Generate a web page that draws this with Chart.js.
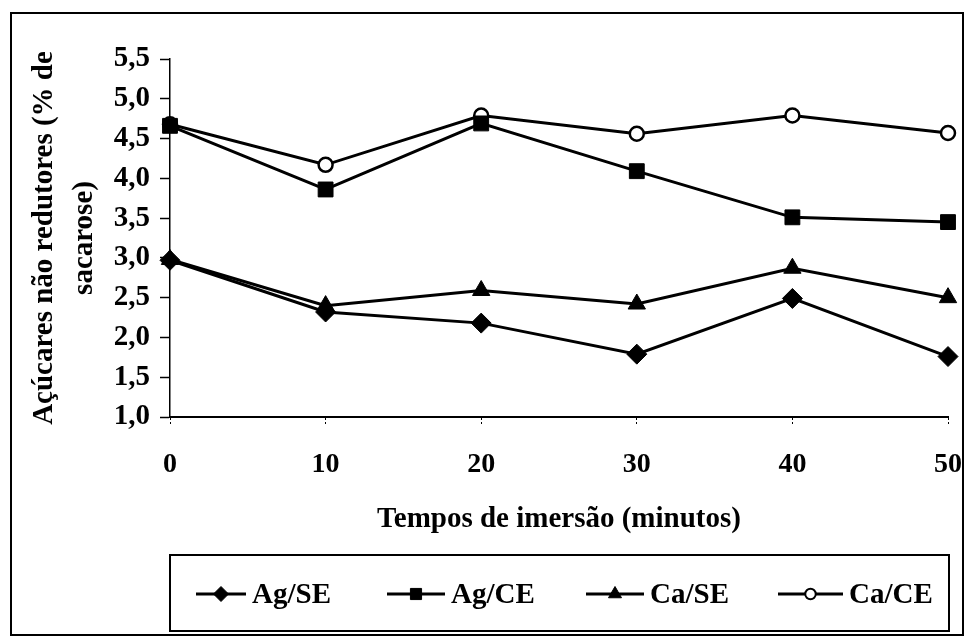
<!DOCTYPE html>
<html>
<head>
<meta charset="utf-8">
<script src="https://cdn.jsdelivr.net/npm/chart.js@4.4.0/dist/chart.umd.min.js"></script>
<style>
  html, body { margin: 0; padding: 0; background: #fff; }
  #wrap { width: 965px; height: 642px; position: relative; }
</style>
</head>
<body>
<div id="wrap"><canvas id="c" width="965" height="642"></canvas></div>
<script>
const categories = ['0', '10', '20', '30', '40', '50'];
const agSE = [2.97, 2.32, 2.18, 1.79, 2.49, 1.76];
const agCE = [4.66, 3.86, 4.69, 4.09, 3.51, 3.45];
const caSE = [2.98, 2.40, 2.59, 2.42, 2.87, 2.50];
const caCE = [4.68, 4.17, 4.79, 4.56, 4.79, 4.57];
const yTickLabels = ['1,0', '1,5', '2,0', '2,5', '3,0', '3,5', '4,0', '4,5', '5,0', '5,5'];
const seriesNames = ['Ag/SE', 'Ag/CE', 'Ca/SE', 'Ca/CE'];

const FONT = '"Liberation Serif", "Times New Roman", serif';

function ds(label, data, style, radius, fill) {
  return {
    label, data,
    borderColor: '#000', borderWidth: 3,
    pointStyle: style, pointRadius: radius, pointHoverRadius: radius,
    pointBackgroundColor: fill, pointBorderColor: '#000',
    pointBorderWidth: fill === '#fff' ? 2.5 : 1,
    tension: 0, fill: false
  };
}

const legendBox = {
  id: 'legendBox',
  afterDraw(chart) {
    const ctx = chart.ctx;
    ctx.save();
    ctx.strokeStyle = '#000';
    ctx.lineWidth = 2;
    ctx.strokeRect(11, 13, 952, 622);
    ctx.strokeRect(170, 555, 779, 76);
    const lineStarts = [196, 387, 586, 778];
    const textStarts = [252, 451, 650, 849];
    const y = 594;
    ctx.font = 'bold 29px ' + FONT;
    ctx.textBaseline = 'middle';
    ctx.textAlign = 'left';
    chart.data.datasets.forEach((d, i) => {
      const x0 = lineStarts[i], x1 = textStarts[i] - 6;
      ctx.strokeStyle = '#000';
      ctx.lineWidth = 3;
      ctx.beginPath(); ctx.moveTo(x0, y); ctx.lineTo(x1, y); ctx.stroke();
      ctx.fillStyle = d.pointBackgroundColor;
      ctx.strokeStyle = '#000';
      ctx.lineWidth = d.pointBackgroundColor === '#fff' ? 2 : 1;
      Chart.helpers.drawPoint(ctx, {
        pointStyle: d.pointStyle, rotation: 0,
        radius: d.pointRadius * 0.75, borderWidth: ctx.lineWidth
      }, (x0 + x1) / 2, y);
      ctx.fillStyle = '#000';
      ctx.fillText(d.label, textStarts[i], y + 2);
    });
    ctx.restore();
  }
};

new Chart(document.getElementById('c'), {
  type: 'line',
  data: {
    labels: categories,
    datasets: [
      ds(seriesNames[0], agSE, 'rectRot', 10, '#000'),
      ds(seriesNames[1], agCE, 'rect', 10.5, '#000'),
      ds(seriesNames[2], caSE, 'triangle', 10, '#000'),
      ds(seriesNames[3], caCE, 'circle', 7, '#fff')
    ]
  },
  options: {
    responsive: false,
    animation: false,
    devicePixelRatio: 1,
    layout: { padding: { top: 59, right: 17, bottom: 97, left: 0 } },
    plugins: { legend: { display: false }, tooltip: { enabled: false } },
    scales: {
      x: {
        type: 'category',
        offset: false,
        afterFit(s) { s.height = 128; s.paddingRight = 0; s.paddingLeft = 0; },
        border: { display: true, color: '#000', width: 2 },
        grid: {
          drawOnChartArea: false, drawTicks: true, tickLength: 8,
          tickColor: '#000', tickWidth: 1, tickBorderDash: [2, 2]
        },
        ticks: {
          color: '#000', padding: 23, maxRotation: 0,
          font: { family: FONT, size: 28, weight: 'bold' }
        },
        title: {
          display: true, text: 'Tempos de imersão (minutos)', color: '#000',
          font: { family: FONT, size: 29, weight: 'bold', lineHeight: 1.2 },
          padding: { top: 0, bottom: 8 }
        }
      },
      y: {
        min: 1, max: 5.5,
        afterFit(s) { s.width = 170; },
        afterBuildTicks(s) {
          s.ticks = yTickLabels.map((t, i) => ({ value: 1 + i * 0.5 }));
        },
        border: { display: true, color: '#000', width: 1.5, dash: [2, 2] },
        grid: {
          drawOnChartArea: false, drawTicks: true, tickLength: 10,
          tickColor: '#000', tickWidth: 1.5
        },
        ticks: {
          color: '#000', padding: 10,
          font: { family: FONT, size: 29, weight: 'bold' },
          callback(v, i) { return yTickLabels[i]; }
        },
        title: {
          display: true, text: ['Açúcares não redutores (% de', 'sacarose)'], color: '#000',
          font: { family: FONT, size: 29, weight: 'bold', lineHeight: '40px' },
          padding: { top: 25, bottom: 0 }
        }
      }
    }
  },
  plugins: [legendBox]
});
</script>
</body>
</html>
